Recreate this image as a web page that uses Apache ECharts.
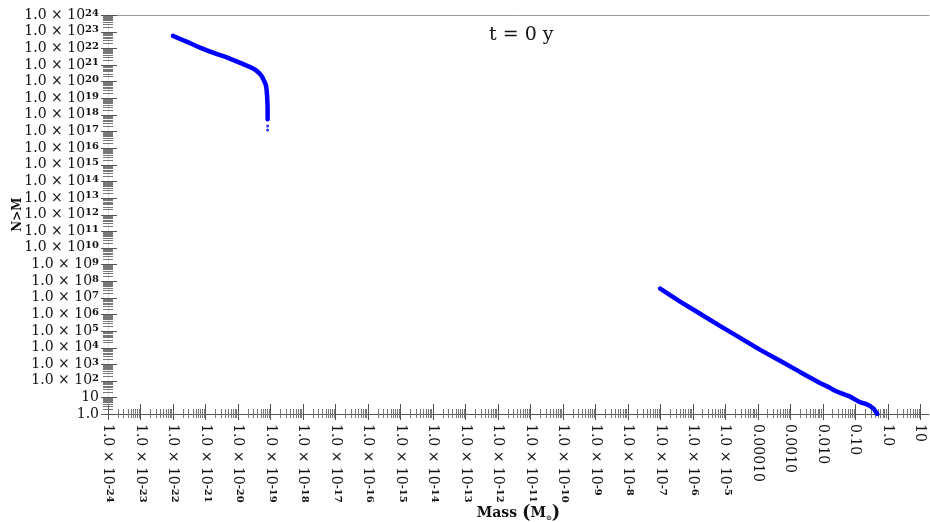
<!DOCTYPE html>
<html>
<head>
<meta charset="utf-8">
<script src="https://cdn.jsdelivr.net/npm/echarts@6/dist/echarts.min.js"></script>
<style>
  html, body { margin: 0; padding: 0; background: #fff; }
  #chart { width: 930px; height: 522px; }
</style>
</head>
<body>
<div id="chart"></div>
<script>
// grain counts N(>M) at t = 0
var smallMass  = [1.0e-22, 2.5e-22, 6.8e-22, 1.8e-21, 4.5e-21, 1.0e-20, 1.9e-20, 3.0e-20, 4.3e-20, 5.3e-20, 6.0e-20, 6.8e-20, 7.3e-20, 7.7e-20, 7.9e-20, 8.1e-20, 8.2e-20, 8.2e-20];
var smallCount = [5.5e22, 2.6e22, 1.1e22, 5.2e21, 2.8e21, 1.5e21, 8.9e20, 5.8e20, 3.5e20, 2.2e20, 1.4e20, 8.5e19, 5.5e19, 2.6e19, 1.4e19, 5.0e18, 2.2e18, 5.4e17];
var tailMass   = [8.2e-20, 8.2e-20];
var tailCount  = [2.1e17, 1.2e17];

var largeMass  = [1.0e-7, 4.1e-7, 1.7e-6, 6.9e-6, 2.9e-5, 1.2e-4, 4.9e-4, 2.0e-3, 8.3e-3, 0.016, 0.024, 0.040, 0.071, 0.10, 0.14, 0.22, 0.29, 0.38, 0.48];
var largeCount = [3.5e7, 5.8e6, 1.07e6, 2.0e5, 3.8e4, 7.2e3, 1.6e3, 340, 74, 40, 25, 17, 11, 7.5, 5.2, 4.0, 3.0, 2.0, 1.0];

var xMin = 1e-24, xMax = 18.9;   // x runs a little past 10
var yMin = 1, yMax = 1e24;
var titleText = 't = 0 y';

function pairs(xs, ys) {
    var out = [];
    for (var i = 0; i < xs.length; i++) out.push([xs[i], ys[i]]);
    return out;
}

// log tick positions: decades and 2..9 in between
var xTicks = [], yTicks = [];
for (var k = -24; k <= 1; k++) {
    xTicks.push([Math.pow(10, k), 1, 1]);
    if (k < 1) for (var m = 2; m <= 9; m++) xTicks.push([m * Math.pow(10, k), 1, 0]);
}
for (var j = 0; j <= 24; j++) {
    yTicks.push([xMin, Math.pow(10, j), 1]);
    if (j < 24) for (var m2 = 2; m2 <= 9; m2++) yTicks.push([xMin, m2 * Math.pow(10, j), 0]);
}

function fmt(v) {
    var l = Math.log10(v);
    var e = Math.round(l);
    if (!isFinite(l) || Math.abs(l - e) > 1e-6) return '';
    if (e === 1) return '10';
    if (e === 0) return '1.0';
    if (e < 0 && e >= -4) return '0.' + '0'.repeat(-e - 1) + '10';
    return '1.0 × 10{sup|' + e + '}';
}

var serif = 'DejaVu Serif';
var richSup = {
    sup: { fontSize: 10, fontFamily: serif, fontWeight: 'bold', verticalAlign: 'top', lineHeight: 9, color: '#111' }
};

var chart = echarts.init(document.getElementById('chart'));
var option = {
    animation: false,
    backgroundColor: '#fff',
    title: {
        text: titleText,
        left: 484,
        top: 21,
        textStyle: { fontFamily: serif, fontSize: 19, fontWeight: 'normal', color: '#111' }
    },
    grid: { left: 108, right: 1, top: 15, bottom: 108, outerBoundsMode: 'none' },
    xAxis: [
        {
            type: 'log', logBase: 10, min: xMin, max: xMax, splitNumber: 25, interval: 1,
            name: 'Mass {p|(}M{sub|⊙}{p|)}',
            nameLocation: 'middle', nameGap: 90, nameMoveOverlap: false,
            nameTextStyle: {
                fontFamily: serif, fontSize: 14, fontWeight: 'bold', color: '#111',
                rich: {
                    p: { fontFamily: serif, fontSize: 18, color: '#111' },
                    sub: { fontFamily: 'DejaVu Sans', fontSize: 7, verticalAlign: 'bottom', color: '#111' }
                }
            },
            axisLine: { lineStyle: { color: '#555', width: 1 } },
            axisTick: { show: false },
            splitLine: { show: false },
            axisLabel: {
                rotate: -90, margin: 10, formatter: fmt, interval: 0, hideOverlap: false,
                fontFamily: serif, fontSize: 14, color: '#111',
                rich: richSup
            }
        },
        {
            type: 'log', logBase: 10, min: xMin, max: xMax, position: 'top',
            axisLine: { lineStyle: { color: '#999' } },
            axisTick: { show: false }, axisLabel: { show: false }, splitLine: { show: false }
        }
    ],
    yAxis: [
        {
            type: 'log', logBase: 10, min: yMin, max: yMax, splitNumber: 24, interval: 1,
            name: 'N>M', nameLocation: 'middle', nameGap: 84, nameRotate: 90, nameMoveOverlap: false,
            nameTextStyle: { fontFamily: serif, fontSize: 12, fontWeight: 'bold', color: '#111' },
            axisLine: { lineStyle: { color: '#555', width: 1 } },
            axisTick: { show: false },
            splitLine: { show: false },
            axisLabel: {
                margin: 9, formatter: fmt, interval: 0, hideOverlap: false,
                fontFamily: serif, fontSize: 14, color: '#111',
                rich: richSup
            }
        },
        {
            type: 'log', logBase: 10, min: yMin, max: yMax, position: 'right',
            axisLine: { lineStyle: { color: '#ddd' } },
            axisTick: { show: false }, axisLabel: { show: false }, splitLine: { show: false }
        }
    ],
    series: [
        {
            type: 'custom', clip: false, silent: true,
            data: xTicks,
            renderItem: function (params, api) {
                var p = api.coord([api.value(0), api.value(1)]);
                var big = api.value(2) === 1;
                var x = Math.round(p[0]) + 0.5;
                return {
                    type: 'line',
                    shape: { x1: x, y1: p[1] - (big ? 10 : 5), x2: x, y2: p[1] + (big ? 6 : 4) },
                    style: { stroke: big ? '#555' : '#777', lineWidth: 1 }
                };
            }
        },
        {
            type: 'custom', clip: false, silent: true,
            data: yTicks,
            renderItem: function (params, api) {
                var p = api.coord([api.value(0), api.value(1)]);
                var big = api.value(2) === 1;
                var y = Math.round(p[1]) + 0.5;
                return {
                    type: 'line',
                    shape: { x1: p[0] - (big ? 7 : 5), y1: y, x2: p[0] + (big ? 9 : 5), y2: y },
                    style: { stroke: big ? '#555' : '#777', lineWidth: 1 }
                };
            }
        },
        {
            // ECharts 6 drops the x label sitting at the origin, so put that one back by hand
            type: 'custom', clip: false, silent: true,
            data: [[xMin, yMin]],
            renderItem: function (params, api) {
                var p = api.coord([api.value(0), api.value(1)]);
                return {
                    type: 'text',
                    x: p[0], y: p[1] + 10,
                    rotation: -Math.PI / 2,
                    style: {
                        text: fmt(api.value(0)),
                        fontFamily: serif, fontSize: 14, fill: '#111',
                        align: 'left', verticalAlign: 'middle',
                        rich: richSup
                    }
                };
            }
        },
        {
            type: 'line', data: pairs(smallMass, smallCount),
            showSymbol: false, smooth: 0.3,
            lineStyle: { color: '#0000ff', width: 4.5, cap: 'round' }
        },
        {
            type: 'scatter', data: pairs(tailMass, tailCount),
            symbolSize: 3, itemStyle: { color: '#0000ff' }
        },
        {
            type: 'line', data: pairs(largeMass, largeCount),
            showSymbol: false,
            lineStyle: { color: '#0000ff', width: 4.5, cap: 'round' }
        }
    ]
};
chart.setOption(option);
</script>
</body>
</html>
